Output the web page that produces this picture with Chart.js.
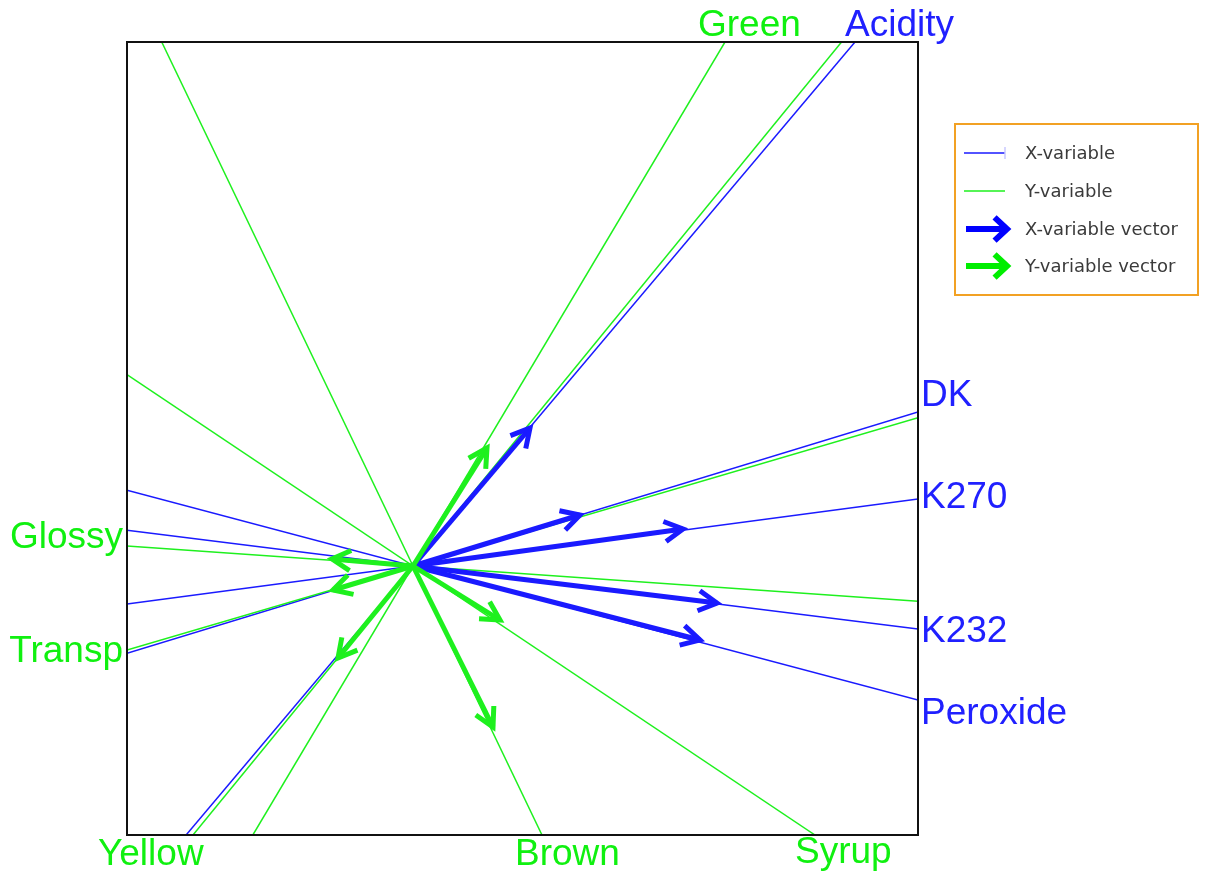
<!DOCTYPE html>
<html>
<head>
<meta charset="utf-8">
<script src="https://cdn.jsdelivr.net/npm/chart.js@4.4.1/dist/chart.umd.min.js"></script>
<style>
  html, body { margin: 0; padding: 0; background: #ffffff; }
  canvas { display: block; }
</style>
</head>
<body>
<canvas id="biplot" width="1208" height="877"></canvas>
<script>
// Frame limits of the correlation plot (both axes share one unit)
const xLimits = [-2.86, 5.05];
const yLimits = [-2.69, 5.24];

// X-variables: vector tips and the point where each variable's line meets the frame (labelled end)
const xVarNames = ['Acidity', 'DK', 'K270', 'K232', 'Peroxide'];
const xVarVecX  = [1.17, 1.67, 2.70, 3.04, 2.87];
const xVarVecY  = [1.38, 0.51, 0.37, -0.37, -0.74];
const xVarEndX  = [4.42, 5.05, 5.05, 5.05, 5.05];
const xVarEndY  = [5.24, 1.54, 0.67, -0.63, -1.34];

// Y-variables
const yVarNames = ['Green', 'Yellow', 'Brown', 'Syrup', 'Glossy', 'Transp'];
const yVarVecX  = [0.74, -0.75, 0.80, 0.87, -0.81, -0.80];
const yVarVecY  = [1.18, -0.92, -1.61, -0.54, 0.07, -0.24];
const yVarEndX  = [3.12, -2.20, 1.29, 4.02, -2.86, -2.86];
const yVarEndY  = [5.24, -2.69, -2.69, -2.69, 0.20, -0.84];

const legendLabels = ['X-variable', 'Y-variable', 'X-variable vector', 'Y-variable vector'];

// Colours
const BLUE = '#1a1aff';
const BLUE_TEXT = '#2020ff';
const GREEN = '#1ef01e';
const GREEN_TEXT = '#10f010';

// Text placement of each variable name relative to its line end (pixels)
const labelPlacement = {
  Acidity:  { dx: -10, dy: -6 },
  Green:    { dx: -27, dy: -6 },
  DK:       { dx: 3,  dy: -6 },
  K270:     { dx: 3,  dy: 9 },
  K232:     { dx: 3,  dy: 13 },
  Peroxide: { dx: 3,  dy: 24 },
  Glossy:   { dx: -4, dy: 2, align: 'right' },
  Transp:   { dx: -4, dy: 12, align: 'right' },
  Yellow:   { dx: -95, dy: 30 },
  Brown:    { dx: -27, dy: 30 },
  Syrup:    { dx: -20, dy: 28 }
};

// Extend a line from its labelled end through the origin to the opposite frame edge
function oppositeEnd(ex, ey) {
  const dx = -ex, dy = -ey;
  let t = Infinity;
  if (dx > 0) t = Math.min(t, xLimits[1] / dx);
  if (dx < 0) t = Math.min(t, xLimits[0] / dx);
  if (dy > 0) t = Math.min(t, yLimits[1] / dy);
  if (dy < 0) t = Math.min(t, yLimits[0] / dy);
  return { x: dx * t, y: dy * t };
}

const datasets = [];

function addGroup(names, vx, vy, ex, ey, color, lineOrder, vecOrder) {
  names.forEach((name, i) => {
    const far = oppositeEnd(ex[i], ey[i]);
    datasets.push({
      label: name + ' line',
      data: [{ x: ex[i], y: ey[i] }, far],
      borderColor: color, borderWidth: 1.5,
      showLine: true, pointRadius: 0, order: lineOrder
    });
  });
  names.forEach((name, i) => {
    datasets.push({
      label: name + ' vector',
      data: [{ x: 0, y: 0 }, { x: vx[i], y: vy[i] }],
      borderColor: color, borderWidth: 5,
      showLine: true, pointRadius: 0, order: vecOrder
    });
  });
}

addGroup(xVarNames, xVarVecX, xVarVecY, xVarEndX, xVarEndY, BLUE, 4, 2);
addGroup(yVarNames, yVarVecX, yVarVecY, yVarEndX, yVarEndY, GREEN, 3, 1);

function drawHead(ctx, x0, y0, x1, y1, len, spread, width, color) {
  const ang = Math.atan2(y1 - y0, x1 - x0);
  ctx.save();
  ctx.strokeStyle = color;
  ctx.lineWidth = width;
  ctx.lineJoin = 'miter';
  ctx.lineCap = 'butt';
  ctx.beginPath();
  ctx.moveTo(x1 - len * Math.cos(ang - spread), y1 - len * Math.sin(ang - spread));
  ctx.lineTo(x1, y1);
  ctx.lineTo(x1 - len * Math.cos(ang + spread), y1 - len * Math.sin(ang + spread));
  ctx.stroke();
  ctx.restore();
}

const biplotDecor = {
  id: 'biplotDecor',
  afterDatasetsDraw(chart) {
    const ctx = chart.ctx;
    const xs = chart.scales.x, ys = chart.scales.y;
    const area = chart.chartArea;

    // arrow heads on the vectors, blue first so green sits on top
    [[xVarVecX, xVarVecY, BLUE], [yVarVecX, yVarVecY, GREEN]].forEach(([vx, vy, col]) => {
      vx.forEach((v, i) => {
        const x0 = xs.getPixelForValue(0), y0 = ys.getPixelForValue(0);
        const x1 = xs.getPixelForValue(v), y1 = ys.getPixelForValue(vy[i]);
        drawHead(ctx, x0, y0, x1, y1, 21, 0.5, 5, col);
      });
    });

    // frame
    ctx.save();
    ctx.strokeStyle = '#111111';
    ctx.lineWidth = 2;
    ctx.strokeRect(area.left, area.top, area.right - area.left, area.bottom - area.top);
    ctx.restore();

    // variable names at the labelled line ends
    ctx.save();
    ctx.font = '37px "Liberation Sans", Arial, sans-serif';
    ctx.textBaseline = 'alphabetic';
    [[xVarNames, xVarEndX, xVarEndY, BLUE_TEXT], [yVarNames, yVarEndX, yVarEndY, GREEN_TEXT]].forEach(([names, ex, ey, col]) => {
      names.forEach((name, i) => {
        const p = labelPlacement[name];
        ctx.fillStyle = col;
        ctx.textAlign = p.align || 'left';
        ctx.fillText(name, xs.getPixelForValue(ex[i]) + p.dx, ys.getPixelForValue(ey[i]) + p.dy);
      });
    });
    ctx.restore();

    // legend box
    const lx = 955, ly = 124, lw = 243, lh = 171;
    ctx.save();
    ctx.strokeStyle = '#f2a124';
    ctx.lineWidth = 2;
    ctx.strokeRect(lx, ly, lw, lh);
    const rows = [153, 191, 229, 266];
    const colors = [BLUE, GREEN, '#0000ff', '#00ee00'];
    ctx.font = '18px "DejaVu Sans", Verdana, sans-serif';
    ctx.textBaseline = 'middle';
    ctx.textAlign = 'left';
    legendLabels.forEach((lab, i) => {
      const y = rows[i];
      if (i < 2) {
        ctx.strokeStyle = colors[i];
        ctx.lineWidth = 1.5;
        ctx.beginPath();
        ctx.moveTo(964, y);
        ctx.lineTo(1005, y);
        ctx.stroke();
        if (i === 0) {
          ctx.strokeStyle = '#c8c8ff';
          ctx.lineWidth = 1.5;
          ctx.beginPath();
          ctx.moveTo(1005, y - 6);
          ctx.lineTo(1005, y + 6);
          ctx.stroke();
        }
      } else {
        ctx.strokeStyle = colors[i];
        ctx.lineWidth = 6;
        ctx.beginPath();
        ctx.moveTo(966, y);
        ctx.lineTo(1004, y);
        ctx.stroke();
        drawHead(ctx, 966, y, 1007, y, 17, 0.75, 6, colors[i]);
      }
      ctx.fillStyle = '#3a3a3a';
      ctx.fillText(lab, 1025, y + 1);
    });
    ctx.restore();
  }
};

new Chart(document.getElementById('biplot'), {
  type: 'scatter',
  data: { datasets },
  options: {
    responsive: false,
    animation: false,
    events: [],
    layout: { padding: { left: 127, top: 42, right: 290, bottom: 42 } },
    scales: {
      x: { type: 'linear', min: xLimits[0], max: xLimits[1], display: false },
      y: { type: 'linear', min: yLimits[0], max: yLimits[1], display: false }
    },
    plugins: {
      legend: { display: false },
      tooltip: { enabled: false }
    }
  },
  plugins: [biplotDecor]
});
</script>
</body>
</html>
